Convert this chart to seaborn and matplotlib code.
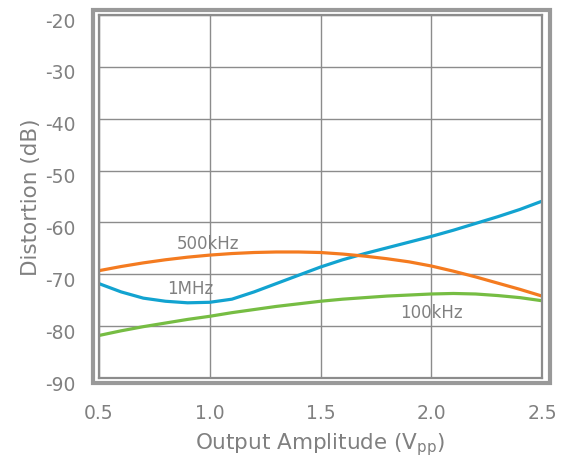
import numpy as np
import pandas as pd
import matplotlib.pyplot as plt
import matplotlib.patches as mpatches
import matplotlib.transforms as mtrans
import seaborn as sns

# data
amplitude = [0.5, 0.6, 0.7, 0.8, 0.9, 1.0, 1.1, 1.2, 1.3, 1.4, 1.5,
             1.6, 1.7, 1.8, 1.9, 2.0, 2.1, 2.2, 2.3, 2.4, 2.5]
dist_1mhz = [-71.8, -73.4, -74.6, -75.2, -75.5, -75.4, -74.8, -73.4, -71.8, -70.2, -68.6,
             -67.2, -66.0, -64.9, -63.8, -62.7, -61.5, -60.2, -58.9, -57.5, -55.9]
dist_500khz = [-69.3, -68.5, -67.8, -67.2, -66.7, -66.3, -66.0, -65.8, -65.7, -65.7, -65.8,
               -66.1, -66.5, -67.0, -67.6, -68.4, -69.4, -70.5, -71.7, -72.9, -74.2]
dist_100khz = [-81.8, -80.9, -80.1, -79.4, -78.7, -78.1, -77.4, -76.8, -76.2, -75.7, -75.2,
               -74.8, -74.5, -74.2, -74.0, -73.8, -73.7, -73.8, -74.1, -74.5, -75.1]
series_names = ['1MHz', '500kHz', '100kHz']
series_colors = ['#12A3D0', '#F47B20', '#76BD43']
x_ticks = [0.5, 1.0, 1.5, 2.0, 2.5]
y_ticks = [-90, -80, -70, -60, -50, -40, -30, -20]

df = pd.DataFrame({
    'Amplitude': amplitude * 3,
    'Distortion': dist_1mhz + dist_500khz + dist_100khz,
    'Freq': sum([[n] * len(amplitude) for n in series_names], []),
})

sns.set_style('white')
plt.rcParams['font.family'] = ['DejaVu Sans']
plt.rcParams['axes.unicode_minus'] = False
text_gray = '#808080'

fig = plt.figure(figsize=(5.68, 4.64), dpi=100)
ax = fig.add_axes([99 / 568, 1 - 379 / 464, 443 / 568, 363 / 464])

sns.lineplot(data=df, x='Amplitude', y='Distortion', hue='Freq',
             palette=dict(zip(series_names, series_colors)), linewidth=2.3,
             legend=False, ax=ax)

ax.set_xlim(0.5, 2.5)
ax.set_ylim(-90, -20)
ax.set_xticks(x_ticks)
ax.set_xticklabels([f'{v:.1f}' for v in x_ticks])
ax.set_yticks(y_ticks)
ax.grid(True, color='#8c8c8c', linewidth=1.0)
ax.set_axisbelow(True)
ax.tick_params(axis='both', length=0, labelsize=13.5, colors=text_gray)
ax.tick_params(axis='x', pad=18)
ax.tick_params(axis='y', pad=17)
for s in ax.spines.values():
    s.set_color('#8c8c8c')
    s.set_linewidth(1.6)

# y tick labels sit slightly below their grid lines in the reference
shift = mtrans.ScaledTranslation(0, -4 / 100, fig.dpi_scale_trans)
for lab in ax.get_yticklabels():
    lab.set_transform(lab.get_transform() + shift)

ax.set_xlabel('Output Amplitude (V$_{\\mathregular{pp}}$)', fontsize=15.5, color=text_gray, labelpad=6)
ax.set_ylabel('Distortion (dB)', fontsize=15.5, color=text_gray, labelpad=3)

# outer frame around plot area
fig.patches.append(mpatches.Rectangle((92.5 / 568, 1 - 384 / 464), 457 / 568, 373 / 464,
                                      transform=fig.transFigure, fill=False,
                                      edgecolor='#999999', linewidth=3))

# curve labels
ax.text(0.99, -63.9, '500kHz', color=text_gray, fontsize=12, ha='center', va='center')
ax.text(0.91, -72.7, '1MHz', color=text_gray, fontsize=12, ha='center', va='center')
ax.text(2.0, -77.2, '100kHz', color=text_gray, fontsize=12, ha='center', va='center')

fig.savefig('out.png', dpi=100)
